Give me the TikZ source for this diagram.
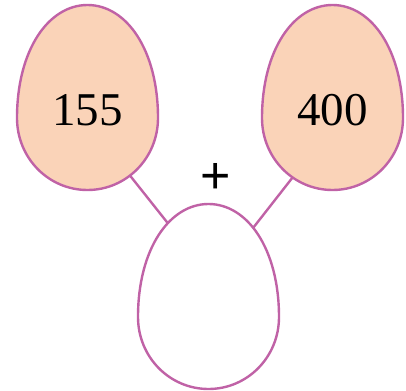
\documentclass[tikz,border=0pt]{standalone}
\usepackage{tikz}
\usepackage{fontspec}
\setmainfont{Liberation Serif}
\newfontfamily\plusfont{Liberation Sans}
\usetikzlibrary{positioning}

\definecolor{eggline}{RGB}{192,98,166}
\definecolor{eggfill}{RGB}{250,211,184}

\newcommand{\eggshape}{(-70.5,0) .. controls (-70.5,-68) and (-39,-113) .. (0,-113)
  .. controls (39,-113) and (70.5,-68) .. (70.5,0)
  .. controls (70.5,40) and (39,72) .. (0,72)
  .. controls (-39,72) and (-70.5,40) .. (-70.5,0) -- cycle}

\begin{document}
\begin{tikzpicture}[x=1pt, y=-1pt, every node/.style={font=\fontsize{47}{52}\selectfont},
    egg/.style={draw=eggline, line width=2.4pt},
    link/.style={draw=eggline, line width=2.4pt}]
    \useasboundingbox (0,0) rectangle (406,390);
    \coordinate (la) at (124,168);
    \coordinate (lb) at (178,236);
    \coordinate (ra) at (300,168);
    \coordinate (rb) at (246,237);
    \draw[link] (la) -- (lb);
    \draw[link] (ra) -- (rb);
    \draw[egg, fill=eggfill, shift={(87.5,118)}] \eggshape;
    \draw[egg, fill=eggfill, shift={(332.5,118)}] \eggshape;
    \draw[egg, fill=white, shift={(208.5,317)}] \eggshape;
    \node (first) at (87.5,110) {155};
    \node (second) at (332.5,110) {400};
    \node[font=\plusfont\fontsize{52}{56}\selectfont] (plus) at (216,178) {+};
\end{tikzpicture}
\end{document}
